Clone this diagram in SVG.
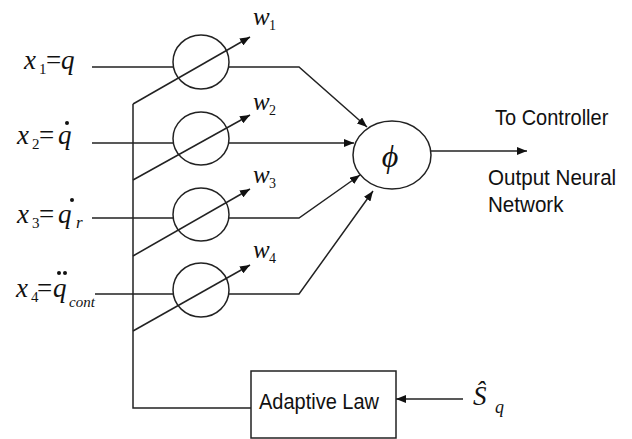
<svg xmlns="http://www.w3.org/2000/svg" width="632" height="439" viewBox="0 0 632 439">
<style>
.ln{fill:none;stroke:#222;stroke-width:1.5}
.nd{fill:#fff;stroke:#222;stroke-width:1.5}
.m{font-family:"Liberation Serif",serif;font-style:italic;fill:#111}
.mu{font-family:"Liberation Serif",serif;fill:#111}
.s{font-family:"Liberation Sans",Arial,sans-serif;fill:#111;font-size:20px}
.dot{fill:#111}
</style>
<defs>
<marker id="ah" markerUnits="userSpaceOnUse" markerWidth="10" markerHeight="8" refX="10" refY="4" orient="auto">
<path d="M0,0 L10,4 L0,8 z" fill="#111"/>
</marker>
</defs>
<rect width="632" height="439" fill="#fff"/>
<g id="connectors">
<path class="ln" d="M92,67 H299 L367,127" marker-end="url(#ah)"/>
<path class="ln" d="M92,143 H354" marker-end="url(#ah)"/>
<path class="ln" d="M92,218 H299 L360,175" marker-end="url(#ah)"/>
<path class="ln" d="M95,294 H299 L373,191" marker-end="url(#ah)"/>
<path class="ln" d="M133,104 V408 H251"/>
<path class="ln" d="M431,151 H527" marker-end="url(#ah)"/>
<path class="ln" d="M463,399 H396" marker-end="url(#ah)"/>
</g>
<g id="w1node"><ellipse class="nd" cx="201" cy="62" rx="28" ry="27"/></g>
<g id="w2node"><ellipse class="nd" cx="201" cy="138.5" rx="28" ry="26.5"/></g>
<g id="w3node"><ellipse class="nd" cx="201" cy="214.5" rx="28" ry="26.5"/></g>
<g id="w4node"><ellipse class="nd" cx="201" cy="290" rx="28" ry="27"/></g>
<g id="weights">
<path class="ln" d="M133,104 L250,37" marker-end="url(#ah)"/>
<path class="ln" d="M133,180 L250,115" marker-end="url(#ah)"/>
<path class="ln" d="M133,256 L250,189" marker-end="url(#ah)"/>
<path class="ln" d="M133,331 L250,265" marker-end="url(#ah)"/>
<text class="m" x="253" y="25" font-size="25">w</text><text class="mu" x="269" y="30" font-size="14">1</text>
<text class="m" x="253" y="110" font-size="25">w</text><text class="mu" x="269" y="115" font-size="14">2</text>
<text class="m" x="253" y="183" font-size="25">w</text><text class="mu" x="269" y="188" font-size="14">3</text>
<text class="m" x="253" y="258" font-size="25">w</text><text class="mu" x="269" y="263" font-size="14">4</text>
</g>
<g id="phi">
<ellipse class="nd" cx="392" cy="155" rx="39" ry="34"/>
<text class="m" x="390" y="167" font-size="32" text-anchor="middle">ϕ</text>
</g>
<g id="adaptive">
<rect class="nd" x="251" y="371" width="145" height="67"/>
<text class="s" transform="translate(259,409) scale(1,1.1)">Adaptive Law</text>
</g>
<g id="inputs">
<text class="m" x="24" y="69" font-size="27">x</text><text class="mu" x="39" y="74" font-size="15">1</text><text class="mu" x="46" y="69" font-size="27">=</text><text class="m" x="61" y="69" font-size="27">q</text>
<text class="m" x="17" y="144" font-size="27">x</text><text class="mu" x="32" y="149" font-size="15">2</text><text class="mu" x="39" y="144" font-size="27">=</text><text class="m" x="58" y="144" font-size="27">q</text>
<circle class="dot" cx="67" cy="123" r="2"/>
<text class="m" x="17" y="223" font-size="27">x</text><text class="mu" x="32" y="228" font-size="15">3</text><text class="mu" x="39" y="223" font-size="27">=</text><text class="m" x="58" y="223" font-size="27">q</text><text class="m" x="76" y="228" font-size="17">r</text>
<circle class="dot" cx="72" cy="200" r="2"/>
<text class="m" x="16" y="297" font-size="27">x</text><text class="mu" x="31" y="302" font-size="15">4</text><text class="mu" x="37" y="297" font-size="27">=</text><text class="m" x="53" y="297" font-size="27">q</text><text class="m" x="69" y="307" font-size="15">cont</text>
<circle class="dot" cx="59" cy="273" r="2"/><circle class="dot" cx="65" cy="273" r="2"/>
</g>
<g id="outputs">
<text class="s" transform="translate(495,125) scale(1,1.1)">To Controller</text>
<text class="s" transform="translate(488,185) scale(1.03,1.1)">Output Neural</text>
<text class="s" transform="translate(488,212) scale(1.03,1.1)">Network</text>
</g>
<g id="shat">
<text class="m" x="473" y="405" font-size="27">Ŝ</text>
<text class="m" x="495" y="413" font-size="18">q</text>
</g>
</svg>
